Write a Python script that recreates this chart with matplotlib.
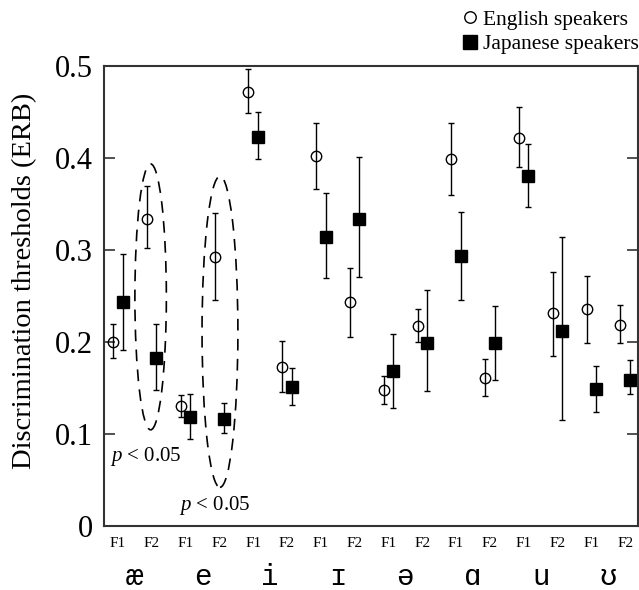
import numpy as np
import matplotlib
matplotlib.use("Agg")
import matplotlib.pyplot as plt
from matplotlib.patches import Ellipse
from matplotlib.transforms import blended_transform_factory

plt.rcParams['font.family'] = ['Liberation Serif', 'DejaVu Serif']
plt.rcParams['mathtext.fontset'] = 'custom'
plt.rcParams['mathtext.rm'] = 'Liberation Serif'
plt.rcParams['mathtext.it'] = 'Liberation Serif:italic'

# vowels and formants
vowels = ['æ', 'e', 'i', 'ɪ', 'ə', 'ɑ', 'u', 'ʊ']
formants = ['F1', 'F2']

# English speakers: mean, lower and upper end of error bar (ERB)
eng_mean = [0.200, 0.334, 0.130, 0.292, 0.472, 0.173, 0.402, 0.243,
            0.148, 0.217, 0.399, 0.161, 0.422, 0.231, 0.236, 0.218]
eng_lo = [0.183, 0.302, 0.118, 0.246, 0.449, 0.146, 0.366, 0.205,
          0.133, 0.200, 0.360, 0.141, 0.390, 0.185, 0.199, 0.199]
eng_hi = [0.219, 0.369, 0.142, 0.340, 0.497, 0.201, 0.438, 0.280,
          0.163, 0.236, 0.438, 0.182, 0.455, 0.276, 0.272, 0.240]

# Japanese speakers
jpn_mean = [0.243, 0.183, 0.118, 0.116, 0.423, 0.151, 0.314, 0.334,
            0.168, 0.199, 0.293, 0.199, 0.380, 0.212, 0.149, 0.159]
jpn_lo = [0.191, 0.148, 0.095, 0.101, 0.399, 0.131, 0.270, 0.271,
          0.128, 0.147, 0.246, 0.159, 0.347, 0.115, 0.124, 0.143]
jpn_hi = [0.296, 0.220, 0.143, 0.134, 0.450, 0.172, 0.362, 0.401,
          0.209, 0.256, 0.341, 0.239, 0.415, 0.314, 0.174, 0.180]

pos = np.arange(1, 17)
off = 0.14

fig = plt.figure(figsize=(6.39, 5.90), dpi=100)
ax = fig.add_axes([0.1632, 0.1085, 0.8348, 0.7797])

em = np.array(eng_mean)
jm = np.array(jpn_mean)
eng_err = [em - np.array(eng_lo), np.array(eng_hi) - em]
jpn_err = [jm - np.array(jpn_lo), np.array(jpn_hi) - jm]

ax.errorbar(pos - off, em, yerr=eng_err, fmt='none', ecolor='black',
            elinewidth=1.0, capsize=2.0, capthick=1.0)
ax.errorbar(pos + off, jm, yerr=jpn_err, fmt='none', ecolor='black',
            elinewidth=1.0, capsize=2.0, capthick=1.0)
ax.plot(pos - off, em, 'o', ms=7.5, mfc='none', mec='black', mew=1.0,
        label='English speakers')
ax.plot(pos + off, jm, 's', ms=9, mfc='black', mec='black',
        label='Japanese speakers')

# significance ellipses
ax.add_patch(Ellipse((1.97, 0.249), 0.93, 0.289, fill=False, ls=(0, (7, 5)),
                     lw=1.2, ec='black'))
ax.add_patch(Ellipse((4.02, 0.211), 1.06, 0.338, fill=False, ls=(0, (7, 5)),
                     lw=1.2, ec='black'))
ax.text(1.83, 0.075, '$p$ < 0.05', fontsize=15, ha='center', va='center')
ax.text(3.87, 0.022, '$p$ < 0.05', fontsize=15, ha='center', va='center')

ax.set_xlim(0.60, 16.37)
ax.set_ylim(0, 0.5)
ax.set_yticks([0, 0.1, 0.2, 0.3, 0.4, 0.5])
ax.set_yticklabels(['0', '0.1', '0.2', '0.3', '0.4', '0.5'], fontsize=22)
ax.tick_params(axis='y', direction='in', length=8, width=1.2,
               right=True, pad=8, color='#333333')
ax.set_xticks(pos)
ax.set_xticklabels(formants * 8, fontsize=11)
ax.tick_params(axis='x', length=0, pad=8)

trans = blended_transform_factory(ax.transData, ax.transAxes)
for k, v in enumerate(vowels):
    ax.text(2 * k + 1.5, -0.110, v, transform=trans, ha='center',
            va='center', fontsize=21,
            family=['Liberation Mono', 'DejaVu Sans Mono'])

ax.set_ylabel('Discrimination thresholds (ERB)', fontsize=20.5)
ax.yaxis.set_label_coords(-0.125, 0.533)

for s in ax.spines.values():
    s.set_color('#333333')
    s.set_linewidth(1.5)

ax.legend(loc='upper left', bbox_to_anchor=(0.716, 0.991),
          bbox_transform=fig.transFigure, frameon=False, fontsize=15.5,
          handlelength=0.8, handletextpad=0.2, borderpad=0.2,
          borderaxespad=0, labelspacing=0.2, markerscale=1.1)

fig.savefig('out.png', dpi=100)
